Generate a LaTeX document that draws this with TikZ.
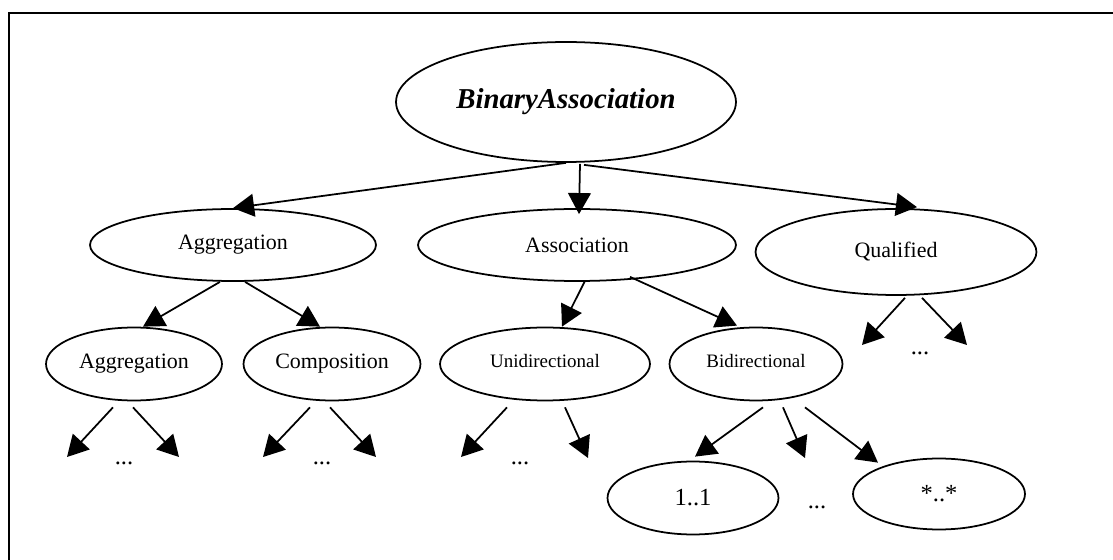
\documentclass[tikz,border=0pt]{standalone}
\usepackage{fontspec}
\setmainfont{Liberation Serif}
\usetikzlibrary{shapes.geometric,arrows.meta,calc}
\begin{document}
\begin{tikzpicture}[x=0.02cm, y=-0.02cm,
	every node/.style={font=\fontsize{12.5}{15}\selectfont},
	ell/.style={ellipse, draw, line width=1pt, inner sep=0pt},
	small/.style={font=\fontsize{10.8}{13}\selectfont},
	big/.style={font=\fontsize{14}{17}\selectfont},
	arr/.style={line width=1pt, -{Triangle[length=12pt, width=13pt]}}]
	\useasboundingbox (0,0) rectangle (1113,560);
	\draw[line width=1.2pt] (9,560) -- (9,13) -- (1113,13);

	\node[ell, minimum width=6.8cm, minimum height=2.4cm, font=\fontsize{16.4}{20}\selectfont\bfseries\itshape] (bin) at (566,102) {BinaryAssociation};
	\node[ell, minimum width=5.72cm, minimum height=1.44cm] (agg) at (233,245) {Aggregation};
	\node[ell, minimum width=6.36cm, minimum height=1.44cm] (asc) at (577,245) {Association};
	\node[ell, minimum width=5.62cm, minimum height=1.72cm] (qual) at (896,252) {Qualified};
	\node[ell, minimum width=3.52cm, minimum height=1.46cm] (agg2) at (134,364) {Aggregation};
	\node[ell, minimum width=3.54cm, minimum height=1.46cm] (comp) at (332,364) {Composition};
	\node[ell, small, minimum width=4.2cm, minimum height=1.46cm] (uni) at (545,364) {\raisebox{3pt}{Unidirectional}};
	\node[ell, small, minimum width=3.46cm, minimum height=1.46cm] (bid) at (756,364) {\raisebox{3pt}{Bidirectional}};
	\node[ell, big, minimum width=3.42cm, minimum height=1.46cm] (one) at (693,498) {1..1};
	\node[ell, big, minimum width=3.44cm, minimum height=1.42cm] (many) at (939,494) {*..*};

	\node[big] (d1) at (124,463) {...};
	\node[big] (d2) at (322,463) {...};
	\node[big] (d3) at (520,463) {...};
	\node[big] (d4) at (920,353) {...};
	\node[big] (d5) at (817,507) {...};

	\coordinate (a1) at (67,457);
	\coordinate (a2) at (179,457);
	\coordinate (c1) at (263,457);
	\coordinate (c2) at (376,457);
	\coordinate (u1) at (461,457);
	\coordinate (u2) at (588,458);
	\coordinate (b1) at (805,458);
	\coordinate (q1) at (862,345);
	\coordinate (q2) at (967,345);

	\draw[arr] (bin.south) -- (agg.north);
	\draw[arr] ($(bin.south)+(14,1)$) -- ($(asc.north)+(2,6)$);
	\draw[arr] ($(bin.south)+(18,2)$) -- ($(qual.north)+(21,-1)$);
	\draw[arr] ($(agg.south)+(-13,0)$) -- ($(agg2.north)+(9,0)$);
	\draw[arr] ($(agg.south)+(12,0)$) -- ($(comp.north)+(-12,0)$);
	\draw[arr] ($(asc.south)+(8,-1)$) -- ($(uni.north)+(17,0)$);
	\draw[arr] ($(asc.south)+(53,-5)$) -- ($(bid.north)+(-19,-1)$);
	\draw[arr] ($(qual.south)+(9,2)$) -- (q1);
	\draw[arr] ($(qual.south)+(26,2)$) -- (q2);
	\draw[arr] ($(agg2.south)+(-21,6)$) -- (a1);
	\draw[arr] ($(agg2.south)+(-1,6)$) -- (a2);
	\draw[arr] ($(comp.south)+(-22,6)$) -- (c1);
	\draw[arr] ($(comp.south)+(-2,6)$) -- (c2);
	\draw[arr] ($(uni.south)+(-38,6)$) -- (u1);
	\draw[arr] ($(uni.south)+(20,6)$) -- (u2);
	\draw[arr] ($(bid.south)+(7,6)$) -- ($(one.north)+(2,-4)$);
	\draw[arr] ($(bid.south)+(27,6)$) -- (b1);
	\draw[arr] ($(bid.south)+(49,6)$) -- ($(many.north)+(-61,5)$);
\end{tikzpicture}
\end{document}
